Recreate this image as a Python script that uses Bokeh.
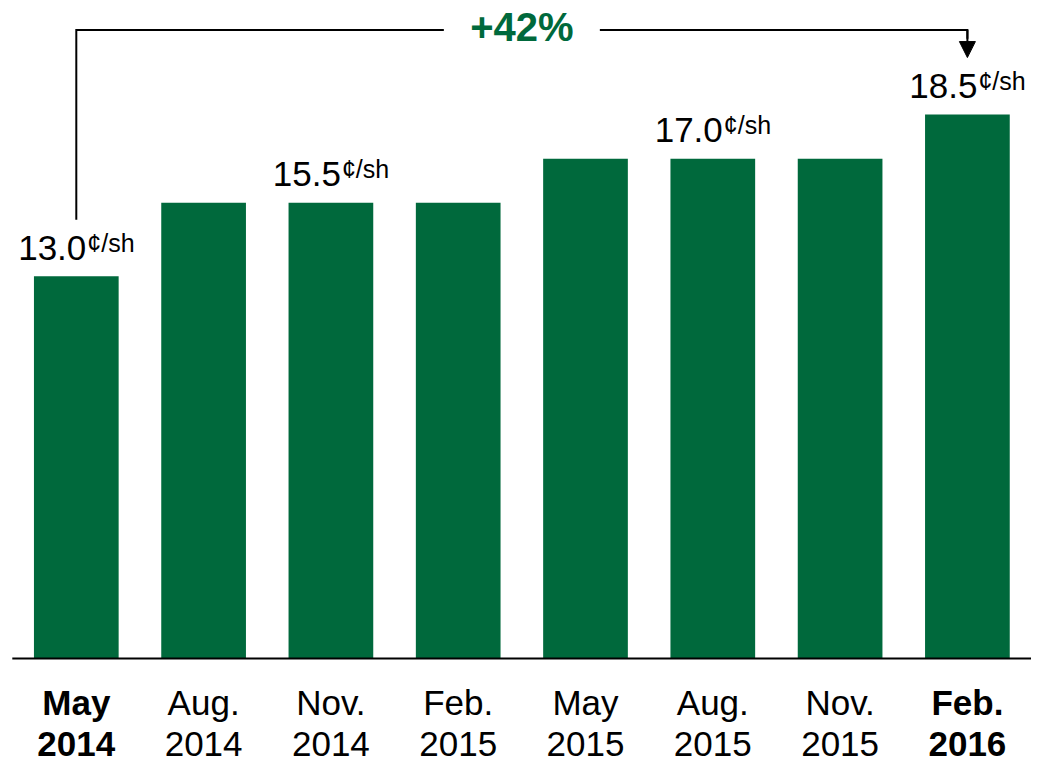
from bokeh.plotting import figure
from bokeh.models import Range1d, Arrow, NormalHead, ColumnDataSource
from bokeh.core.properties import value, field
from bokeh.embed import file_html
from bokeh.resources import INLINE

# ---- data ----
months = ["May", "Aug.", "Nov.", "Feb.", "May", "Aug.", "Nov.", "Feb."]
years = ["2014", "2014", "2014", "2015", "2015", "2015", "2015", "2016"]
values = [13.0, 15.5, 15.5, 15.5, 17.0, 17.0, 17.0, 18.5]
show_label = [True, False, True, False, False, True, False, True]
unit = "¢/sh"

GREEN = "#00693C"
FONT = "Liberation Sans"

n = len(values)
xs = list(range(n))

PX_X = 127.3          # pixels per category
PX_Y = 29.4           # pixels per cent
W, H = 1031, 768
x_start = -75.8 / PX_X
base_px = 658
K = 0.39              # baseline correction (em)

p = figure(
    width=W, height=H,
    x_range=Range1d(x_start, x_start + W / PX_X),
    y_range=Range1d(-(H - base_px) / PX_Y, base_px / PX_Y),
    x_axis_type=None, y_axis_type=None,
    output_backend="svg", toolbar_location=None,
    min_border=0, outline_line_color=None,
)
p.background_fill_color = "white"
p.border_fill_color = "white"

# bars
p.vbar(x=xs, top=values, width=84.7 / PX_X, bottom=0,
       fill_color=GREEN, line_color=None)

# baseline
p.segment(x0=[xs[0] - 64 / PX_X], y0=[0], x1=[x_start + W / PX_X], y1=[0],
          line_color="black", line_width=2)

# value labels
lx = [x for x, s in zip(xs, show_label) if s]
ly = [v for v, s in zip(values, show_label) if s]
lt = [f"{v:.1f}" for v in ly]
p.text(x=lx, y=ly, text=lt, text_font=value(FONT), text_font_size=value("35px"),
       text_align="right", text_baseline="alphabetic", x_offset=10,
       y_offset=-14.7 - K * 35, text_color="black")
p.text(x=lx, y=ly, text=[unit] * len(lx), text_font=value(FONT),
       text_font_size=value("25px"), text_align="left", text_baseline="alphabetic",
       x_offset=11, y_offset=-23.7 - K * 25, text_color="black")

# category labels
styles = ["bold" if i in (0, n - 1) else "normal" for i in xs]
src = ColumnDataSource(dict(x=xs, y=[0] * n, m=months, yr=years, st=styles))
p.text(x="x", y="y", text="m", source=src, text_font=value(FONT),
       text_font_size=value("35px"), text_font_style=field("st"),
       text_align="center", text_baseline="alphabetic", y_offset=58 - K * 35,
       text_color="black")
p.text(x="x", y="y", text="yr", source=src, text_font=value(FONT),
       text_font_size=value("35px"), text_font_style=field("st"),
       text_align="center", text_baseline="alphabetic", y_offset=99 - K * 35,
       text_color="black")

# bracket with growth
bracket_y = 21.38
left_end = values[0] + 1.92
tip = values[-1] + 1.94
mid = (xs[0] + xs[-1]) / 2
gap = 78 / PX_X
p.line(x=[xs[0], xs[0], mid - gap], y=[left_end, bracket_y, bracket_y],
       line_width=2, line_color="black", line_join="miter")
p.line(x=[mid + gap, xs[-1], xs[-1]], y=[bracket_y, bracket_y, bracket_y - 0.3],
       line_width=2, line_color="black", line_join="miter")
p.add_layout(Arrow(end=NormalHead(size=16, fill_color="black", line_color="black", line_width=1),
                   x_start=xs[-1], y_start=bracket_y, x_end=xs[-1], y_end=tip,
                   line_width=2, line_color="black"))

pct = round((values[-1] / values[0] - 1) * 100)
p.text(x=[mid], y=[bracket_y], text=[f"+{pct}%"], text_font=value(FONT),
       text_font_size=value("40px"), text_font_style="bold", text_color=GREEN,
       text_align="center", text_baseline="alphabetic", y_offset=12.6 - K * 40)

open("out.html", "w").write(file_html(p, INLINE))
